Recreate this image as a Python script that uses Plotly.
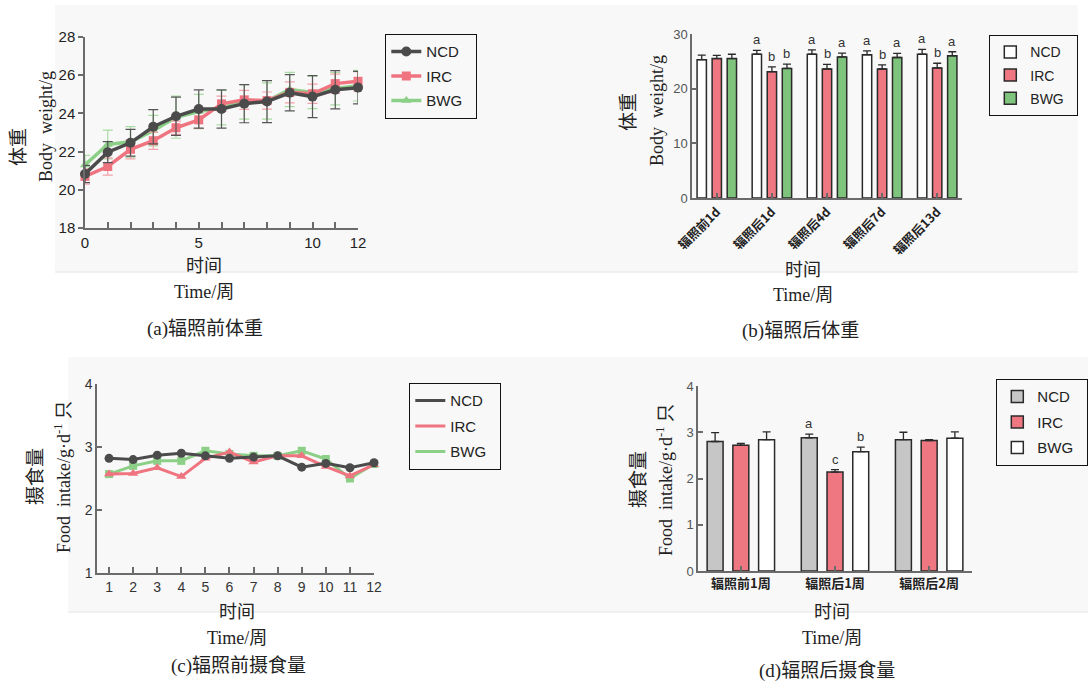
import plotly.graph_objects as go

W, H = 1088, 686
def px(x): return x / W
def py(y): return 1 - y / H

# ---------------- data ----------------
# (a) body weight before irradiation
weeks_a = list(range(0, 13))
ncd_a = [20.83, 21.97, 22.46, 23.30, 23.85, 24.23, 24.23, 24.51, 24.62, 25.08, 24.88, 25.24, 25.35]
ncd_a_err = [0.45, 0.55, 0.70, 0.90, 1.00, 1.00, 1.00, 1.00, 1.10, 0.95, 1.10, 1.00, 0.85]
irc_a = [20.70, 21.22, 22.12, 22.57, 23.25, 23.66, 24.50, 24.71, 24.67, 25.10, 25.03, 25.56, 25.68]
irc_a_err = [0.40, 0.45, 0.50, 0.45, 0.35, 0.45, 0.40, 0.50, 0.45, 0.55, 0.50, 0.50, 0.50]
bwg_a = [21.30, 22.37, 22.51, 23.10, 23.80, 24.10, 24.30, 24.60, 24.65, 25.25, 25.10, 25.30, 25.45]
bwg_a_err = [0.50, 0.75, 0.80, 0.80, 1.10, 0.90, 0.90, 0.90, 0.95, 0.90, 0.85, 0.85, 0.80]
tickvals_a = [0, 5, 10, 12]

# (b) body weight after irradiation
groups_b = ["辐照前1d", "辐照后1d", "辐照后4d", "辐照后7d", "辐照后13d"]
ncd_b = [25.3, 26.3, 26.3, 26.2, 26.3]
ncd_b_err = [0.85, 0.70, 0.80, 0.70, 0.90]
irc_b = [25.5, 23.1, 23.6, 23.6, 23.8]
irc_b_err = [0.60, 0.90, 0.85, 0.75, 0.85]
bwg_b = [25.5, 23.7, 25.8, 25.7, 26.0]
bwg_b_err = [0.80, 0.80, 0.70, 0.75, 0.75]
ncd_b_sig = ["", "a", "a", "a", "a"]
irc_b_sig = ["", "b", "b", "b", "b"]
bwg_b_sig = ["", "b", "a", "a", "a"]

# (c) food intake before irradiation
weeks_c = list(range(1, 13))
ncd_c = [2.82, 2.80, 2.87, 2.90, 2.86, 2.82, 2.84, 2.86, 2.68, 2.74, 2.67, 2.75]
irc_c = [2.57, 2.58, 2.67, 2.53, 2.82, 2.92, 2.76, 2.86, 2.86, 2.69, 2.54, 2.72]
bwg_c = [2.57, 2.70, 2.78, 2.78, 2.94, 2.89, 2.86, 2.86, 2.94, 2.81, 2.50, 2.73]

# (d) food intake after irradiation
groups_d = ["辐照前1周", "辐照后1周", "辐照后2周"]
ncd_d = [2.80, 2.88, 2.84]
ncd_d_err = [0.19, 0.08, 0.16]
irc_d = [2.72, 2.14, 2.82]
irc_d_err = [0.04, 0.05, 0.02]
bwg_d = [2.84, 2.58, 2.87]
bwg_d_err = [0.17, 0.10, 0.14]
ncd_d_sig = ["", "a", ""]
irc_d_sig = ["", "c", ""]
bwg_d_sig = ["", "b", ""]

# ---------------- styles ----------------
C_NCD = "#4b4b4b"
C_IRC = "#ef7480"
C_BWG = "#8ccf87"
C_IRC_BAR = "#ee7782"
C_BWG_BAR = "#7fc47c"
C_GRAY_BAR = "#c6c6c6"
SANS = "Liberation Sans, Arial, Noto Sans CJK SC, sans-serif"
SERIF = "Liberation Serif, DejaVu Serif, Noto Sans CJK SC, serif"
CJK = "Noto Sans CJK SC, sans-serif"
PAD = "\u00a0\u00a0"

fig = go.Figure()

# ---------------- panel (a) ----------------
a_specs = [
    ("BWG", bwg_a, bwg_a_err, C_BWG, "#a9dca4", "triangle-up", 9, 3),
    ("IRC", irc_a, irc_a_err, C_IRC, "#f4a3ab", "square", 9, 2),
    ("NCD", ncd_a, ncd_a_err, C_NCD, "#555555", "circle", 10, 1),
]
for name, vals, errs, col, ecol, sym, ms, rank in a_specs:
    fig.add_trace(go.Scatter(
        x=weeks_a, y=vals, name=name + PAD, mode="lines+markers",
        line=dict(color=col, width=3.5), marker=dict(symbol=sym, size=ms, color=col),
        error_y=dict(type="data", array=errs, color=ecol, thickness=1.2, width=5),
        cliponaxis=False, xaxis="x", yaxis="y", legend="legend",
        legendgroup="a" + name, legendrank=rank))

# ---------------- panel (b) ----------------
xb = list(range(len(groups_b)))
b_specs = [
    ("NCD", ncd_b, ncd_b_err, "white", 1),
    ("IRC", irc_b, irc_b_err, C_IRC_BAR, 2),
    ("BWG", bwg_b, bwg_b_err, C_BWG_BAR, 3),
]
for name, vals, errs, col, rank in b_specs:
    fig.add_trace(go.Bar(
        x=xb, y=vals, name=name + PAD, marker=dict(color=col, line=dict(color="#2a2a2a", width=1.5)),
        error_y=dict(type="data", symmetric=False, array=errs, arrayminus=[0] * len(errs),
                     color="#2a2a2a", thickness=1.3, width=4),
        xaxis="x2", yaxis="y2", legend="legend2", legendgroup="b" + name, legendrank=rank))

# ---------------- panel (c) ----------------
c_specs = [
    ("BWG", bwg_c, C_BWG, "square", 8, 3),
    ("IRC", irc_c, C_IRC, "triangle-up", 9, 2),
    ("NCD", ncd_c, C_NCD, "circle", 9, 1),
]
for name, vals, col, sym, ms, rank in c_specs:
    fig.add_trace(go.Scatter(
        x=weeks_c, y=vals, name=name, mode="lines+markers",
        line=dict(color=col, width=3), marker=dict(symbol=sym, size=ms, color=col),
        cliponaxis=False, xaxis="x3", yaxis="y3", showlegend=False))
    # legend entry (line only)
    fig.add_trace(go.Scatter(
        x=[None], y=[None], name=name + PAD, mode="lines", line=dict(color=col, width=3),
        xaxis="x3", yaxis="y3", legend="legend3", legendgroup="c" + name, legendrank=rank))

# ---------------- panel (d) ----------------
xd = list(range(len(groups_d)))
d_specs = [
    ("NCD", ncd_d, ncd_d_err, C_GRAY_BAR, 1),
    ("IRC", irc_d, irc_d_err, C_IRC_BAR, 2),
    ("BWG", bwg_d, bwg_d_err, "white", 3),
]
for name, vals, errs, col, rank in d_specs:
    fig.add_trace(go.Bar(
        x=xd, y=vals, name=name + PAD, marker=dict(color=col, line=dict(color="#2a2a2a", width=1.5)),
        error_y=dict(type="data", symmetric=False, array=errs, arrayminus=[0] * len(errs),
                     color="#2a2a2a", thickness=1.3, width=4),
        xaxis="x4", yaxis="y4", legend="legend4", legendgroup="d" + name, legendrank=rank))

# ---------------- significance letters ----------------
annotations = []
slot = (1 - 0.18) / 3
for sigs, vals, errs, k in [(ncd_b_sig, ncd_b, ncd_b_err, -1), (irc_b_sig, irc_b, irc_b_err, 0),
                            (bwg_b_sig, bwg_b, bwg_b_err, 1)]:
    for i, s in enumerate(sigs):
        if s:
            annotations.append(dict(x=xb[i] + k * slot, y=vals[i] + errs[i], xref="x2", yref="y2",
                                    text=s, showarrow=False, yanchor="bottom", yshift=1,
                                    font=dict(family=SANS, size=13, color="#333")))
for sigs, vals, errs, k in [(ncd_d_sig, ncd_d, ncd_d_err, -1), (irc_d_sig, irc_d, irc_d_err, 0),
                            (bwg_d_sig, bwg_d, bwg_d_err, 1)]:
    for i, s in enumerate(sigs):
        if s:
            annotations.append(dict(x=xd[i] + k * slot, y=vals[i] + errs[i], xref="x4", yref="y4",
                                    text=s, showarrow=False, yanchor="bottom", yshift=1,
                                    font=dict(family=SANS, size=13, color="#333")))

# ---------------- titles (as text) ----------------
def txt(x, y, s, size=18, angle=0, family=SERIF, color="#222"):
    annotations.append(dict(x=px(x), y=py(y), xref="paper", yref="paper", text=s, showarrow=False,
                            textangle=angle, xanchor="center", yanchor="middle",
                            font=dict(family=family, size=size, color=color)))

# y titles
txt(18, 147, "体重", 19, -90)
txt(46, 127, "Body\u00a0 weight/g", 18, -90)
txt(629, 112, "体重", 19, -90)
txt(657, 111, "Body\u00a0 weight/g", 18, -90)
txt(35, 477, "摄食量", 19, -90)
txt(62, 477, "Food\u00a0 intake/g·d<sup>-1</sup> 只", 18, -90)
txt(638, 480, "摄食量", 19, -90)
txt(664, 480, "Food\u00a0 intake/g·d<sup>-1</sup> 只", 18, -90)
# x titles
for cx, y1, y2 in [(204, 266, 292), (803, 270, 295), (237, 612, 638), (832, 612, 638)]:
    txt(cx, y1, "时间", 18)
    txt(cx, y2, "Time/周", 18)
# captions
txt(205, 329, "(a)辐照前体重", 19)
txt(800, 331, "(b)辐照后体重", 19)
txt(238, 666, "(c)辐照前摄食量", 19)
txt(827, 671, "(d)辐照后摄食量", 19)

# ---------------- background panels ----------------
shapes = [
    dict(type="rect", xref="paper", yref="paper", x0=px(55), x1=px(1078), y0=py(272), y1=py(5),
         fillcolor="#f8f8f8", line=dict(width=0), layer="below"),
    dict(type="line", xref="paper", yref="paper", x0=px(55), x1=px(1078), y0=py(272), y1=py(272),
         line=dict(color="#e6e6e6", width=1), layer="below"),
    dict(type="rect", xref="paper", yref="paper", x0=px(68), x1=px(1088), y0=py(612), y1=py(357),
         fillcolor="#f8f8f8", line=dict(width=0), layer="below"),
    dict(type="line", xref="paper", yref="paper", x0=px(68), x1=px(1088), y0=py(612), y1=py(612),
         line=dict(color="#e6e6e6", width=1), layer="below"),
]

axis_common = dict(showgrid=False, zeroline=False, showline=True, linecolor="#6b6b6b", linewidth=1.5,
                   tickcolor="#6b6b6b", tickwidth=1.5, fixedrange=True, automargin=False)

def leg(x, y, size=15, gap=2):
    return dict(x=px(x), y=py(y), xanchor="left", yanchor="top", bordercolor="#111", borderwidth=1.3,
                bgcolor="rgba(0,0,0,0)", font=dict(family=SANS, size=size, color="#222"),
                tracegroupgap=gap, itemwidth=30)

fig.update_layout(
    width=W, height=H, margin=dict(l=0, r=0, t=0, b=0, autoexpand=False),
    paper_bgcolor="white", plot_bgcolor="rgba(0,0,0,0)",
    barmode="group", bargap=0.18, bargroupgap=0.38,
    shapes=shapes, annotations=annotations,
    xaxis=dict(domain=[px(85), px(358)], range=[0, 12], anchor="y", tickmode="array",
               tickvals=tickvals_a, ticks="inside", ticklen=6,
               minor=dict(dtick=1, ticks="inside", ticklen=6, tickcolor="#6b6b6b", tickwidth=1.5),
               tickfont=dict(family=SANS, size=15, color="#222"), **axis_common),
    yaxis=dict(domain=[py(228), py(37)], range=[18, 28], anchor="x", tickmode="array",
               tickvals=[18, 20, 22, 24, 26, 28], ticks="outside", ticklen=5,
               tickfont=dict(family=SANS, size=15, color="#222"), **axis_common),
    xaxis2=dict(domain=[px(692), px(962)], range=[-0.45, 4.45], anchor="y2", tickmode="array",
                tickvals=xb, ticktext=groups_b, tickangle=-45, ticks="inside", ticklen=5,
                tickfont=dict(family=CJK, size=12.5, color="#222", weight="bold"), **axis_common),
    yaxis2=dict(domain=[py(198), py(34)], range=[0, 30], anchor="x2", tickmode="array",
                tickvals=[0, 10, 20, 30], ticks="inside", ticklen=5,
                tickfont=dict(family=SANS, size=13, color="#555"), **axis_common),
    xaxis3=dict(domain=[px(97), px(374)], range=[0.5, 12], anchor="y3", tickmode="array",
                tickvals=weeks_c, ticks="inside", ticklen=6,
                tickfont=dict(family=SANS, size=14, color="#333"), **axis_common),
    yaxis3=dict(domain=[py(573), py(384)], range=[1, 4], anchor="x3", tickmode="array",
                tickvals=[1, 2, 3, 4], ticks="inside", ticklen=5,
                tickfont=dict(family=SANS, size=14, color="#333"), **axis_common),
    xaxis4=dict(domain=[px(698), px(972)], range=[-0.455, 2.455], anchor="y4", tickmode="array",
                tickvals=xd, ticktext=groups_d, ticks="inside", ticklen=5,
                tickfont=dict(family=CJK, size=13, color="#222", weight="bold"), **axis_common),
    yaxis4=dict(domain=[py(571), py(386)], range=[0, 4], anchor="x4", tickmode="array",
                tickvals=[0, 1, 2, 3, 4], ticks="inside", ticklen=5,
                tickfont=dict(family=SANS, size=13, color="#555"), **axis_common),
    legend=leg(385, 34, 15, 2),
    legend2=leg(989, 35, 14, 2),
    legend3=leg(409, 383, 15, 3),
    legend4=leg(996, 379, 15, 3),
)

fig.write_html("out.html", config={"displayModeBar": False},
               post_script="document.body.style.margin='0px';document.body.style.padding='0px';"
                           "document.documentElement.style.overflow='hidden';")
